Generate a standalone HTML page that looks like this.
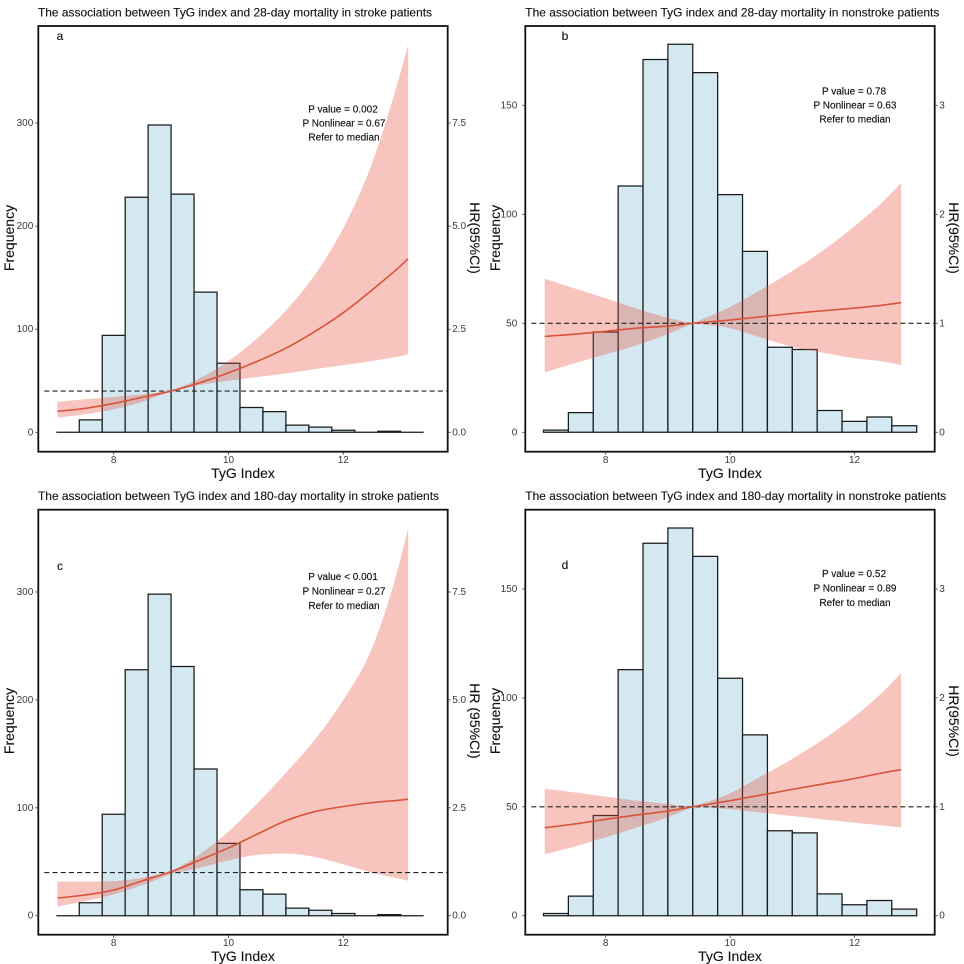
<!DOCTYPE html>
<html lang="en">
<head>
<meta charset="utf-8">
<title>TyG index and mortality</title>
<style>
html,body{margin:0;padding:0;background:#fff;width:964px;height:964px;overflow:hidden}
svg{display:block;font-family:"Liberation Sans",Arial,sans-serif;filter:blur(0.35px)}
.title{font-size:12px;fill:#111;stroke:#111;stroke-width:.12}
.note{font-size:10px;fill:#111;stroke:#111;stroke-width:.15;text-anchor:middle;dominant-baseline:central}
.letter{font-size:12px;fill:#111;stroke:#111;stroke-width:.12;text-anchor:middle;dominant-baseline:central}
.axt{font-size:14px;fill:#111;stroke:#111;stroke-width:.12;text-anchor:middle;dominant-baseline:central}
</style>
</head>
<body>
<svg id="chart" width="964" height="964" viewBox="0 0 964 964" xmlns="http://www.w3.org/2000/svg">
  <g id="panel-a"></g>
  <g id="panel-b"></g>
  <g id="panel-c"></g>
  <g id="panel-d"></g>

  <g>
    <text class="title" x="38" y="16.5" textLength="394" lengthAdjust="spacingAndGlyphs">The association between TyG index and 28-day mortality in stroke patients</text>
    <text class="letter" x="60" y="36">a</text>
    <text class="note" x="343" y="110">P value = 0.002</text>
    <text class="note" x="344" y="124">P Nonlinear = 0.67</text>
    <text class="note" x="344" y="138">Refer to median</text>
    <text class="axt" x="243" y="473">TyG Index</text>
    <text class="axt" transform="translate(9,238) rotate(-90)">Frequency</text>
    <text class="axt" transform="translate(475,238) rotate(90)">HR(95%CI)</text>
  </g>
  <g>
    <text class="title" x="525.3" y="16.5" textLength="414" lengthAdjust="spacingAndGlyphs">The association between TyG index and 28-day mortality in nonstroke patients</text>
    <text class="letter" x="565" y="36">b</text>
    <text class="note" x="854" y="92">P value = 0.78</text>
    <text class="note" x="855" y="106">P Nonlinear = 0.63</text>
    <text class="note" x="855" y="120">Refer to median</text>
    <text class="axt" x="730" y="473">TyG Index</text>
    <text class="axt" transform="translate(495,238) rotate(-90)">Frequency</text>
    <text class="axt" transform="translate(954,238) rotate(90)">HR(95%CI)</text>
  </g>
  <g>
    <text class="title" x="38" y="500" textLength="401" lengthAdjust="spacingAndGlyphs">The association between TyG index and 180-day mortality in stroke patients</text>
    <text class="letter" x="60" y="566">c</text>
    <text class="note" x="343" y="577.7">P value &lt; 0.001</text>
    <text class="note" x="344" y="592">P Nonlinear = 0.27</text>
    <text class="note" x="344" y="606.7">Refer to median</text>
    <text class="axt" x="243" y="956">TyG Index</text>
    <text class="axt" transform="translate(9,721) rotate(-90)">Frequency</text>
    <text class="axt" transform="translate(475,721) rotate(90)">HR (95%CI)</text>
  </g>
  <g>
    <text class="title" x="525.3" y="500" textLength="421" lengthAdjust="spacingAndGlyphs">The association between TyG index and 180-day mortality in nonstroke patients</text>
    <text class="letter" x="565" y="565">d</text>
    <text class="note" x="854" y="574.7">P value = 0.52</text>
    <text class="note" x="855" y="589">P Nonlinear = 0.89</text>
    <text class="note" x="855" y="603.7">Refer to median</text>
    <text class="axt" x="730" y="956">TyG Index</text>
    <text class="axt" transform="translate(495,721) rotate(-90)">Frequency</text>
    <text class="axt" transform="translate(954,721) rotate(90)">HR(95%CI)</text>
  </g>
</svg>
<script>
// Histogram data: bins are 0.4 wide and begin at TyG = 7.0
const binStart = 7.0;
const binWidth = 0.4;
const strokeCounts = [0, 12, 94, 228, 298, 231, 136, 67, 24, 20, 7, 5, 2, 0, 1, 0];
const nonstrokeCounts = [1, 9, 46, 113, 171, 178, 165, 109, 83, 39, 38, 10, 5, 7, 3];

// Shared axis tick labels
const xTickValues = [8, 10, 12];
const strokeFreqTicks = [0, 100, 200, 300];
const strokeHrTicks = ["0.0", "2.5", "5.0", "7.5"];
const nonstrokeFreqTicks = [0, 50, 100, 150];
const nonstrokeHrTicks = ["0", "1", "2", "3"];

// Panel a: 28-day mortality, stroke
const aTyg = [7.02, 7.5, 8, 8.5, 9, 9.5, 10, 10.5, 11, 11.5, 12, 12.5, 13, 13.13];
const aHr = [0.51, 0.58, 0.7, 0.85, 1, 1.2, 1.44, 1.72, 2.04, 2.44, 2.9, 3.45, 4.04, 4.21];
const aUpper = [0.735, 0.8, 0.86, 0.92, 1, 1.31, 1.73, 2.28, 2.95, 3.81, 4.95, 6.52, 8.74, 9.39];
const aLower = [0.355, 0.44, 0.56, 0.74, 1, 1.15, 1.25, 1.34, 1.43, 1.53, 1.63, 1.73, 1.85, 1.89];

// Panel b: 28-day mortality, nonstroke
const bTyg = [7.02, 7.5, 8, 8.5, 9, 9.4, 10, 10.5, 11, 11.5, 12, 12.5, 12.75];
const bHr = [0.88, 0.9, 0.927, 0.955, 0.975, 1, 1.03, 1.06, 1.09, 1.115, 1.14, 1.17, 1.19];
const bUpper = [1.41, 1.32, 1.23, 1.135, 1.05, 1, 1.15, 1.31, 1.48, 1.67, 1.89, 2.14, 2.29];
const bLower = [0.55, 0.633, 0.716, 0.8, 0.902, 1, 0.954, 0.868, 0.785, 0.73, 0.68, 0.645, 0.617];

// Panel c: 180-day mortality, stroke
const cTyg = [7.02, 7.5, 8, 8.5, 9, 9.5, 10, 10.5, 11, 11.5, 12, 12.5, 13, 13.13];
const cHr = [0.41, 0.48, 0.595, 0.81, 1.02, 1.29, 1.57, 1.89, 2.2, 2.41, 2.53, 2.62, 2.68, 2.7];
const cUpper = [0.79, 0.79, 0.8, 0.88, 1.02, 1.42, 1.95, 2.6, 3.31, 4.07, 5, 6.2, 8.28, 8.98];
const cLower = [0.21, 0.34, 0.495, 0.71, 0.97, 1.11, 1.28, 1.41, 1.44, 1.36, 1.19, 1, 0.85, 0.81];

// Panel d: 180-day mortality, nonstroke
const dTyg = [7.02, 7.5, 8, 8.5, 9, 9.4, 10, 10.5, 11, 11.5, 12, 12.5, 12.75];
const dHr = [0.808, 0.842, 0.885, 0.925, 0.961, 1, 1.056, 1.108, 1.16, 1.21, 1.26, 1.317, 1.34];
const dUpper = [1.166, 1.133, 1.093, 1.056, 1.026, 1, 1.125, 1.28, 1.44, 1.62, 1.83, 2.08, 2.23];
const dLower = [0.564, 0.634, 0.72, 0.81, 0.904, 1, 0.977, 0.946, 0.916, 0.885, 0.854, 0.826, 0.81];

const NS = "http://www.w3.org/2000/svg";

function make(parent, tag, attrs) {
  const node = document.createElementNS(NS, tag);
  for (const key in attrs) node.setAttribute(key, attrs[key]);
  parent.appendChild(node);
  return node;
}

// Monotone cubic path through screen points; cornerAt keeps a sharp pinch
function smoothPath(pts, moveFirst, cornerAt) {
  const n = pts.length;
  const h = [];
  const sec = [];
  for (let i = 0; i < n - 1; i++) {
    h.push(pts[i + 1][0] - pts[i][0]);
    sec.push((pts[i + 1][1] - pts[i][1]) / h[i]);
  }
  const tanOut = new Array(n);
  const tanIn = new Array(n);
  for (let i = 1; i < n - 1; i++) {
    if (i === cornerAt) {
      tanIn[i] = sec[i - 1];
      tanOut[i] = sec[i];
      continue;
    }
    const p = (sec[i - 1] * h[i] + sec[i] * h[i - 1]) / (h[i - 1] + h[i]);
    const m = (Math.sign(sec[i - 1]) + Math.sign(sec[i])) *
      Math.min(Math.abs(sec[i - 1]), Math.abs(sec[i]), 0.5 * Math.abs(p));
    tanIn[i] = m;
    tanOut[i] = m;
  }
  tanOut[0] = (3 * sec[0] - tanIn[1]) / 2;
  tanIn[n - 1] = (3 * sec[n - 2] - tanOut[n - 2]) / 2;
  let d = (moveFirst ? "M" : "L") + pts[0][0].toFixed(2) + " " + pts[0][1].toFixed(2);
  for (let i = 0; i < n - 1; i++) {
    const t = h[i] / 3;
    d += "C" + (pts[i][0] + t).toFixed(2) + " " + (pts[i][1] + t * tanOut[i]).toFixed(2) + " " +
         (pts[i + 1][0] - t).toFixed(2) + " " + (pts[i + 1][1] - t * tanIn[i + 1]).toFixed(2) + " " +
         pts[i + 1][0].toFixed(2) + " " + pts[i + 1][1].toFixed(2);
  }
  return d;
}

function drawPanel(cfg) {
  const root = document.getElementById(cfg.id);
  const xScale = v => cfg.x8 + (v - 8) * cfg.xUnit;
  const yScale = v => cfg.y0 - v * cfg.yUnit;
  const hrScale = v => cfg.y0 - v * cfg.hrUnit;

  // histogram bars (paths so that zero-count bins still draw as a baseline)
  cfg.counts.forEach(function (count, i) {
    const x0 = xScale(binStart + i * binWidth);
    const x1 = xScale(binStart + (i + 1) * binWidth);
    const top = yScale(count);
    const bar = make(root, "path", {
      d: "M" + x0 + " " + cfg.y0 + "L" + x0 + " " + top + "L" + x1 + " " + top + "L" + x1 + " " + cfg.y0 + "Z",
      fill: "#d3e8f0", stroke: "#1a1a1a", "stroke-width": 1.25
    });
    
    
  });

  // confidence band
  let pinch = 0;
  cfg.tyg.forEach(function (t, i) {
    if (cfg.upper[i] - cfg.lower[i] < cfg.upper[pinch] - cfg.lower[pinch]) pinch = i;
  });
  const last = cfg.tyg.length - 1;
  const upperPts = cfg.tyg.map((t, i) => [xScale(t), hrScale(cfg.upper[i])]);
  const lowerPts = cfg.tyg.map((t, i) => [xScale(t), hrScale(cfg.lower[i])]);
  const lowerRev = lowerPts.slice().reverse().map(p => [-p[0], p[1]]);
  const lowerD = smoothPath(lowerRev, false, last - pinch)
    .replace(/(-\d+\.\d+) (-?\d+\.\d+)/g, function (m, a, b) { return (-parseFloat(a)).toFixed(2) + " " + b; });
  const band = make(root, "path", {
    d: smoothPath(upperPts, true, pinch) + lowerD + "Z",
    fill: "#e64b35", "fill-opacity": 0.32, stroke: "none"
  });
  
  

  // reference line at HR = 1
  const ref = make(root, "line", {
    x1: cfg.left + 6, x2: cfg.right, y1: hrScale(1), y2: hrScale(1),
    stroke: "#222", "stroke-width": 1.2, "stroke-dasharray": "5 3.2"
  });
  
  

  // HR curve
  const curve = make(root, "path", {
    d: smoothPath(cfg.tyg.map((t, i) => [xScale(t), hrScale(cfg.hr[i])]), true, -1),
    fill: "none", stroke: "#d8533c", "stroke-width": 1.6
  });
  
  

  // frame
  const frame = make(root, "rect", {
    x: cfg.left, y: cfg.top, width: cfg.right - cfg.left, height: cfg.bottom - cfg.top,
    fill: "none", stroke: "#111", "stroke-width": 1.8
  });
  
  

  // x axis
  xTickValues.forEach(function (v) {
    const tick = make(root, "line", {
      x1: xScale(v), x2: xScale(v), y1: cfg.bottom, y2: cfg.bottom + 3, stroke: "#333", "stroke-width": 0.8
    });
    
    
    const label = make(root, "text", {
      x: xScale(v), y: cfg.bottom + 9, "font-size": 10, fill: "#3a3a3a",
      "text-anchor": "middle", "dominant-baseline": "central"
    });
    label.textContent = v;
    
    
  });

  // left frequency axis
  cfg.freqTicks.forEach(function (v) {
    const tick = make(root, "line", {
      x1: cfg.left - 3, x2: cfg.left, y1: yScale(v), y2: yScale(v), stroke: "#333", "stroke-width": 0.8
    });
    
    
    const label = make(root, "text", {
      x: cfg.left - cfg.labelGap, y: yScale(v) + 0.5, "font-size": 10, fill: "#3a3a3a",
      "text-anchor": "end", "dominant-baseline": "central"
    });
    label.textContent = v;
    
    
  });

  // right HR axis
  cfg.hrTicks.forEach(function (text) {
    const v = parseFloat(text);
    const tick = make(root, "line", {
      x1: cfg.right, x2: cfg.right + 3, y1: hrScale(v), y2: hrScale(v), stroke: "#333", "stroke-width": 0.8
    });
    
    
    const label = make(root, "text", {
      x: cfg.right + 4.5, y: hrScale(v) + 0.5, "font-size": 10, fill: "#3a3a3a",
      "text-anchor": "start", "dominant-baseline": "central"
    });
    label.textContent = text;
    
    
  });
}

drawPanel({ id: "panel-a", counts: strokeCounts, tyg: aTyg, hr: aHr, upper: aUpper, lower: aLower,
  freqTicks: strokeFreqTicks, hrTicks: strokeHrTicks, left: 38.3, right: 447.7, top: 26, bottom: 451.7,
  x8: 113.7, xUnit: 57.4, y0: 432.3, yUnit: 1.031, hrUnit: 41.24, labelGap: 5 });
drawPanel({ id: "panel-b", counts: nonstrokeCounts, tyg: bTyg, hr: bHr, upper: bUpper, lower: bLower,
  freqTicks: nonstrokeFreqTicks, hrTicks: nonstrokeHrTicks, left: 525.3, right: 934.7, top: 26, bottom: 451.7,
  x8: 605.7, xUnit: 62.2, y0: 432.3, yUnit: 2.18, hrUnit: 109, labelGap: 8 });
drawPanel({ id: "panel-c", counts: strokeCounts, tyg: cTyg, hr: cHr, upper: cUpper, lower: cLower,
  freqTicks: strokeFreqTicks, hrTicks: strokeHrTicks, left: 38.3, right: 447.7, top: 509.7, bottom: 934.7,
  x8: 113.7, xUnit: 57.4, y0: 915.7, yUnit: 1.079, hrUnit: 43.16, labelGap: 5 });
drawPanel({ id: "panel-d", counts: nonstrokeCounts, tyg: dTyg, hr: dHr, upper: dUpper, lower: dLower,
  freqTicks: nonstrokeFreqTicks, hrTicks: nonstrokeHrTicks, left: 525.3, right: 934.7, top: 509.7, bottom: 934.7,
  x8: 605.7, xUnit: 62.2, y0: 915.7, yUnit: 2.178, hrUnit: 108.9, labelGap: 8 });
</script>
</body>
</html>
